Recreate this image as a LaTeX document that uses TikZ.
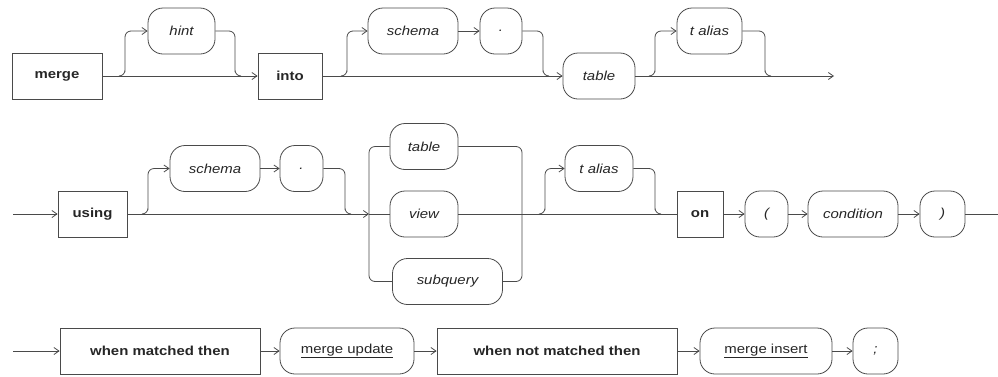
\documentclass[tikz,border=0pt]{standalone}
\usepackage{fontspec}
\setmainfont{Liberation Sans}[FakeStretch=1.15]
\usepackage{tikz}
\usetikzlibrary{arrows.meta,calc}
\definecolor{RailGray}{HTML}{4A4A4A}
\definecolor{InkGray}{HTML}{262626}
\tikzset{
  % keyword box
  KW/.style={rectangle,draw=RailGray,thick,minimum height=46pt,
             inner sep=0pt,text=InkGray,font=\fontsize{13}{15}\selectfont\bfseries},
  % rounded box for names and symbols
  NT/.style={rectangle,rounded corners=15pt,draw=RailGray,thick,minimum height=46pt,
             inner sep=0pt,text=InkGray,font=\fontsize{13}{15}\selectfont\itshape},
  % linked clause
  LK/.style={NT,font=\fontsize{13}{15}\selectfont},
  % rail lines
  ln/.style={thick,draw=RailGray,rounded corners=6pt},
  arr/.style={ln,-{Straight Barb[length=5pt,width=7pt]}}
}
\begin{document}
\begin{tikzpicture}[x=1pt,y=-1pt]
  \useasboundingbox (0,0) rectangle (998,376);

  % first line: merge [hint] into [schema .] table [t alias]
  \node[KW,minimum width=90pt] (merge)  at (57,76)    {merge};
  \node[NT,minimum width=67pt] (hint)   at (181.5,31) {hint};
  \node[KW,minimum width=64pt] (into)   at (290,76)   {into};
  \node[NT,minimum width=90pt] (schA)   at (413,31)   {schema};
  \node[NT,minimum width=42pt] (dotA)   at (501,31)   {.};
  \node[NT,minimum width=72pt] (tabA)   at (599,76)   {table};
  \node[NT,minimum width=65pt] (aliasA) at (709.5,31) {t alias};
  \coordinate (sA) at (120,76);  \coordinate (jA) at (240,76);
  \coordinate (sB) at (342,76);  \coordinate (jB) at (548,76);
  \coordinate (sC) at (650,76);  \coordinate (jC) at (770,76);
  \coordinate (endA) at (834,76);

  \draw[arr] (merge) -- (into);
  \draw[arr] (sA) -| ($(sA)+(5,-10)$) |- (hint.west);
  \draw[ln] (hint.east) -| ($(jA)+(-5,-10)$) |- (jA);
  \draw[arr] (into) -- (tabA);
  \draw[arr] (sB) -| ($(sB)+(5,-10)$) |- (schA.west);
  \draw[arr] (schA) -- (dotA);
  \draw[ln] (dotA.east) -| ($(jB)+(-5,-10)$) |- (jB);
  \draw[arr] (tabA) -- (endA);
  \draw[arr] (sC) -| ($(sC)+(5,-10)$) |- (aliasA.west);
  \draw[ln] (aliasA.east) -| ($(jC)+(-5,-10)$) |- (jC);

  % second line: using [schema .] table|view|subquery [t alias] on ( condition )
  \coordinate (startB) at (13,214);
  \node[KW,minimum width=69pt] (using)  at (92.5,214)  {using};
  \node[NT,minimum width=90pt] (schB)   at (215,168.5) {schema};
  \node[NT,minimum width=43pt] (dotB)   at (301.5,168.5) {.};
  \node[NT,minimum width=68pt] (tabB)   at (424,146.5) {table};
  \node[NT,minimum width=68pt] (view)   at (424,214)   {view};
  \node[NT,minimum width=110pt] (subq)  at (447.5,281.5) {subquery};
  \node[NT,minimum width=68pt] (aliasB) at (599,168.5) {t alias};
  \node[KW,minimum width=46pt] (on)     at (700,214)   {on};
  \node[NT,minimum width=43pt] (lpar)   at (766.5,214) {(};
  \node[NT,minimum width=90pt] (cond)   at (853,214)   {condition};
  \node[NT,minimum width=45pt] (rpar)   at (942.5,214) {)};
  \coordinate (endB) at (998,214);
  \coordinate (sD) at (143,214); \coordinate (jD) at (350,214);
  \coordinate (cIn) at (369,214); \coordinate (cOut) at (522,214);
  \coordinate (sE) at (540,214); \coordinate (jE) at (660,214);

  \draw[arr] (startB) -- (using);
  \draw[arr] (using) -- (cIn);
  \draw[arr] (sD) -| ($(sD)+(5,-10)$) |- (schB.west);
  \draw[arr] (schB) -- (dotB);
  \draw[ln] (dotB.east) -| ($(jD)+(-5,-10)$) |- (jD);
  \draw[ln] (cIn) |- (tabB.west);
  \draw[ln] (cIn) -- (view.west);
  \draw[ln] (cIn) |- (subq.west);
  \draw[ln] (tabB.east) -| (cOut);
  \draw[ln] (view.east) -- (cOut);
  \draw[ln] (subq.east) -| (cOut);
  \draw[ln] (cOut) -- (on);
  \draw[arr] (sE) -| ($(sE)+(5,-10)$) |- (aliasB.west);
  \draw[ln] (aliasB.east) -| ($(jE)+(-5,-10)$) |- (jE);
  \draw[arr] (on) -- (lpar);
  \draw[arr] (lpar) -- (cond);
  \draw[arr] (cond) -- (rpar);
  \draw[ln] (rpar) -- (endB);

  % third line: when matched / when not matched
  \coordinate (startC) at (13,351);
  \node[KW,minimum width=200pt] (wmt)  at (160,351)   {when matched then};
  \node[LK,minimum width=134pt] (mupd) at (347,351)   {\underline{merge update}};
  \node[KW,minimum width=240pt] (wnmt) at (557,351)   {when not matched then};
  \node[LK,minimum width=132pt] (mins) at (766,351)   {\underline{merge insert}};
  \node[NT,minimum width=45pt] (semi)  at (875.5,351) {;};

  \draw[arr] (startC) -- (wmt);
  \draw[arr] (wmt) -- (mupd);
  \draw[arr] (mupd) -- (wnmt);
  \draw[arr] (wnmt) -- (mins);
  \draw[arr] (mins) -- (semi);
\end{tikzpicture}
\end{document}
